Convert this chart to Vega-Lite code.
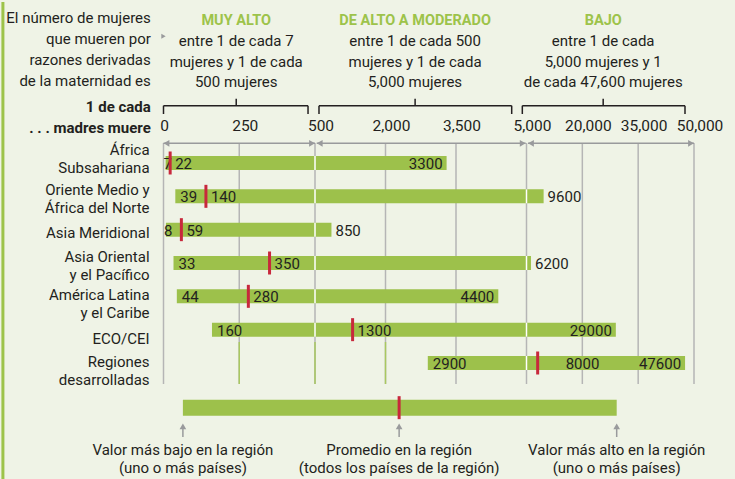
{
  "$schema": "https://vega.github.io/schema/vega-lite/v6.json",
  "width": 735,
  "height": 479,
  "autosize": {"type": "fit", "contains": "padding"},
  "padding": 0,
  "background": "#eff3e6",
  "config": {"view": {"stroke": null}, "axis": {"disable": true}, "font": "Roboto", "text": {"color": "#231f20"}},
  "data": {"values": [{}]},
  "datasets": {
    "regiones": [
      {"region": "África\nSubsahariana", "fila": 1, "min": 7, "prom": 22, "max": 3300},
      {"region": "Oriente Medio y\nÁfrica del Norte", "fila": 2, "min": 39, "prom": 140, "max": 9600},
      {"region": "Asia Meridional", "fila": 3, "min": 8, "prom": 59, "max": 850},
      {"region": "Asia Oriental\ny el Pacífico", "fila": 4, "min": 33, "prom": 350, "max": 6200},
      {"region": "América Latina\ny el Caribe", "fila": 5, "min": 44, "prom": 280, "max": 4400},
      {"region": "ECO/CEI", "fila": 6, "min": 160, "prom": 1300, "max": 29000},
      {"region": "Regiones\ndesarrolladas", "fila": 7, "min": 2900, "prom": 8000, "max": 47600}
    ],
    "escala": [
      {"v": 0, "t": "0"}, {"v": 250, "t": "250"}, {"v": 500, "t": "500"},
      {"v": 2000, "t": "2,000"}, {"v": 3500, "t": "3,500"}, {"v": 5000, "t": "5,000"},
      {"v": 20000, "t": "20,000"}, {"v": 35000, "t": "35,000"}, {"v": 50000, "t": "50,000"}
    ],
    "secciones": [
      {"titulo": "MUY ALTO", "texto": "entre 1 de cada 7\nmujeres y 1 de cada\n500 mujeres", "centro": 240, "ini": 0, "fin": 477, "fa": 0, "fb": 500},
      {"titulo": "DE ALTO A MODERADO", "texto": "entre 1 de cada 500\nmujeres y 1 de cada\n5,000 mujeres", "centro": 2630, "ini": 585, "fin": 4685, "fa": 536, "fb": 4983},
      {"titulo": "BAJO", "texto": "entre 1 de cada\n5,000 mujeres y 1\nde cada 47,600 mujeres", "centro": 25600, "ini": 4911, "fin": 47582, "fa": 5403, "fb": 50000}
    ],
    "leyenda": [
      {"t": "Valor más bajo en la región\n(uno o más países)", "v": 64},
      {"t": "Promedio en la región\n(todos los países de la región)", "v": 2290},
      {"t": "Valor más alto en la región\n(uno o más países)", "v": 29230}
    ]
  },
  "layer": [
    {
      "mark": {"type": "rule", "color": "#9dc34a", "strokeWidth": 3},
      "encoding": {
        "x": {"datum": -530, "type": "quantitative", "scale": {"domain": [0, 500, 5000, 50000], "range": [163.5, 315, 526.5, 694], "nice": false, "zero": false}},
        "y": {"datum": -3.83, "type": "quantitative", "scale": {"domain": [-3.83, 10.54], "range": [0, 479], "nice": false, "zero": false}},
        "y2": {"datum": 10.54}
      }
    },
    {
      "data": {"name": "escala"},
      "mark": {"type": "rule", "color": "#b5b5b5", "strokeWidth": 1.5},
      "encoding": {
        "x": {"field": "v", "type": "quantitative"},
        "y": {"datum": 0.4, "type": "quantitative"},
        "y2": {"datum": 7.63}
      }
    },
    {
      "data": {"name": "escala"},
      "transform": [{"filter": "datum.v == 250 || datum.v == 500 || datum.v == 2000"}],
      "mark": {"type": "rule", "color": "#a9c860", "strokeWidth": 1.5},
      "encoding": {
        "x": {"field": "v", "type": "quantitative"},
        "y": {"datum": 6.37, "type": "quantitative"},
        "y2": {"datum": 7.63}
      }
    },
    {
      "data": {"name": "secciones"},
      "mark": {"type": "rule", "color": "#999a9c", "strokeWidth": 1.5},
      "encoding": {
        "x": {"field": "fa", "type": "quantitative"},
        "x2": {"field": "fb"},
        "y": {"datum": 0.41, "type": "quantitative"}
      }
    },
    {
      "data": {"name": "secciones"},
      "mark": {"type": "point", "shape": "triangle-left", "filled": true, "size": 45, "color": "#999a9c", "opacity": 1, "xOffset": 3},
      "encoding": {
        "x": {"field": "fa", "type": "quantitative"},
        "y": {"datum": 0.41, "type": "quantitative"}
      }
    },
    {
      "data": {"name": "secciones"},
      "mark": {"type": "point", "shape": "triangle-right", "filled": true, "size": 45, "color": "#999a9c", "opacity": 1, "xOffset": -3},
      "encoding": {
        "x": {"field": "fb", "type": "quantitative"},
        "y": {"datum": 0.41, "type": "quantitative"}
      }
    },
    {
      "data": {"name": "secciones"},
      "mark": {"type": "rule", "color": "#231f20", "strokeWidth": 1.5},
      "encoding": {
        "x": {"field": "ini", "type": "quantitative"},
        "x2": {"field": "fin"},
        "y": {"datum": -0.72, "type": "quantitative"}
      }
    },
    {
      "data": {"name": "secciones"},
      "mark": {"type": "rule", "color": "#231f20", "strokeWidth": 1.5},
      "encoding": {
        "x": {"field": "ini", "type": "quantitative"},
        "y": {"datum": -0.72, "type": "quantitative"},
        "y2": {"datum": -0.47}
      }
    },
    {
      "data": {"name": "secciones"},
      "mark": {"type": "rule", "color": "#231f20", "strokeWidth": 1.5},
      "encoding": {
        "x": {"field": "fin", "type": "quantitative"},
        "y": {"datum": -0.72, "type": "quantitative"},
        "y2": {"datum": -0.47}
      }
    },
    {
      "data": {"name": "secciones"},
      "mark": {"type": "rule", "color": "#231f20", "strokeWidth": 1.5},
      "encoding": {
        "x": {"field": "centro", "type": "quantitative"},
        "y": {"datum": -0.93, "type": "quantitative"},
        "y2": {"datum": -0.72}
      }
    },
    {
      "data": {"name": "regiones"},
      "mark": {"type": "rule", "color": "#9dc14b", "strokeWidth": 14, "strokeCap": "butt"},
      "encoding": {
        "x": {"field": "min", "type": "quantitative"},
        "x2": {"field": "max"},
        "y": {"field": "fila", "type": "quantitative"}
      }
    },
    {
      "data": {"name": "regiones"},
      "transform": [{"filter": "datum.min < 500 && datum.max > 500"}],
      "mark": {"type": "tick", "orient": "vertical", "size": 14, "thickness": 1.5, "color": "#ffffff", "opacity": 1},
      "encoding": {
        "x": {"datum": 500, "type": "quantitative"},
        "y": {"field": "fila", "type": "quantitative"}
      }
    },
    {
      "data": {"name": "regiones"},
      "transform": [{"filter": "datum.min < 5000 && datum.max > 5000"}],
      "mark": {"type": "tick", "orient": "vertical", "size": 14, "thickness": 1.5, "color": "#ffffff", "opacity": 1},
      "encoding": {
        "x": {"datum": 5000, "type": "quantitative"},
        "y": {"field": "fila", "type": "quantitative"}
      }
    },
    {
      "data": {"name": "regiones"},
      "transform": [{"filter": "datum.fila != 1 && datum.fila != 3"}],
      "mark": {"type": "text", "align": "left", "baseline": "middle", "fontSize": 15, "dx": 5, "dy": 1},
      "encoding": {
        "x": {"field": "min", "type": "quantitative"},
        "y": {"field": "fila", "type": "quantitative"},
        "text": {"field": "min", "type": "nominal"}
      }
    },
    {
      "data": {"name": "regiones"},
      "transform": [{"filter": "datum.fila == 1 || datum.fila == 3"}],
      "mark": {"type": "text", "align": "left", "baseline": "middle", "fontSize": 15, "dx": -2, "dy": 1},
      "encoding": {
        "x": {"field": "min", "type": "quantitative"},
        "y": {"field": "fila", "type": "quantitative"},
        "text": {"field": "min", "type": "nominal"}
      }
    },
    {
      "data": {"name": "regiones"},
      "mark": {"type": "tick", "orient": "vertical", "size": 23, "thickness": 3, "color": "#c8283c", "opacity": 1},
      "encoding": {
        "x": {"field": "prom", "type": "quantitative"},
        "y": {"field": "fila", "type": "quantitative"}
      }
    },
    {
      "data": {"name": "regiones"},
      "transform": [{"filter": "datum.fila != 7"}],
      "mark": {"type": "text", "align": "left", "baseline": "middle", "fontSize": 15, "dx": 5, "dy": 1},
      "encoding": {
        "x": {"field": "prom", "type": "quantitative"},
        "y": {"field": "fila", "type": "quantitative"},
        "text": {"field": "prom", "type": "nominal"}
      }
    },
    {
      "data": {"name": "regiones"},
      "transform": [{"filter": "datum.fila == 7"}],
      "mark": {"type": "text", "align": "left", "baseline": "middle", "fontSize": 15, "dx": 28, "dy": 1},
      "encoding": {
        "x": {"field": "prom", "type": "quantitative"},
        "y": {"field": "fila", "type": "quantitative"},
        "text": {"field": "prom", "type": "nominal"}
      }
    },
    {
      "data": {"name": "regiones"},
      "transform": [{"filter": "datum.fila == 1 || datum.fila == 5 || datum.fila == 6 || datum.fila == 7"}],
      "mark": {"type": "text", "align": "right", "baseline": "middle", "fontSize": 15, "dx": -4, "dy": 1},
      "encoding": {
        "x": {"field": "max", "type": "quantitative"},
        "y": {"field": "fila", "type": "quantitative"},
        "text": {"field": "max", "type": "nominal"}
      }
    },
    {
      "data": {"name": "regiones"},
      "transform": [{"filter": "datum.fila == 2 || datum.fila == 3 || datum.fila == 4"}],
      "mark": {"type": "text", "align": "left", "baseline": "middle", "fontSize": 15, "dx": 4, "dy": 1},
      "encoding": {
        "x": {"field": "max", "type": "quantitative"},
        "y": {"field": "fila", "type": "quantitative"},
        "text": {"field": "max", "type": "nominal"}
      }
    },
    {
      "data": {"name": "regiones"},
      "transform": [{"filter": "datum.fila == 2 || datum.fila == 4"}],
      "mark": {"type": "text", "align": "right", "baseline": "middle", "fontSize": 15, "lineBreak": "\n", "lineHeight": 18, "dy": -6},
      "encoding": {
        "x": {"datum": -46, "type": "quantitative"},
        "y": {"field": "fila", "type": "quantitative"},
        "text": {"field": "region", "type": "nominal"}
      }
    },
    {
      "data": {"name": "regiones"},
      "transform": [{"filter": "datum.fila == 5 || datum.fila == 7"}],
      "mark": {"type": "text", "align": "right", "baseline": "middle", "fontSize": 15, "lineBreak": "\n", "lineHeight": 18, "dy": -1},
      "encoding": {
        "x": {"datum": -46, "type": "quantitative"},
        "y": {"field": "fila", "type": "quantitative"},
        "text": {"field": "region", "type": "nominal"}
      }
    },
    {
      "data": {"name": "regiones"},
      "transform": [{"filter": "datum.fila == 1"}],
      "mark": {"type": "text", "align": "right", "baseline": "middle", "fontSize": 15, "lineBreak": "\n", "lineHeight": 18, "dy": -13},
      "encoding": {
        "x": {"datum": -46, "type": "quantitative"},
        "y": {"field": "fila", "type": "quantitative"},
        "text": {"field": "region", "type": "nominal"}
      }
    },
    {
      "data": {"name": "regiones"},
      "transform": [{"filter": "datum.fila == 3"}],
      "mark": {"type": "text", "align": "right", "baseline": "middle", "fontSize": 15, "dy": 3},
      "encoding": {
        "x": {"datum": -46, "type": "quantitative"},
        "y": {"field": "fila", "type": "quantitative"},
        "text": {"field": "region", "type": "nominal"}
      }
    },
    {
      "data": {"name": "regiones"},
      "transform": [{"filter": "datum.fila == 6"}],
      "mark": {"type": "text", "align": "right", "baseline": "middle", "fontSize": 15, "dy": 9},
      "encoding": {
        "x": {"datum": -46, "type": "quantitative"},
        "y": {"field": "fila", "type": "quantitative"},
        "text": {"field": "region", "type": "nominal"}
      }
    },
    {
      "data": {"name": "escala"},
      "transform": [{"filter": "datum.v > 0"}],
      "mark": {"type": "text", "align": "center", "baseline": "alphabetic", "fontSize": 15.5, "dx": 6},
      "encoding": {
        "x": {"field": "v", "type": "quantitative"},
        "y": {"datum": 0.05, "type": "quantitative"},
        "text": {"field": "t", "type": "nominal"}
      }
    },
    {
      "data": {"name": "escala"},
      "transform": [{"filter": "datum.v == 0"}],
      "mark": {"type": "text", "align": "center", "baseline": "alphabetic", "fontSize": 15.5, "dx": 1},
      "encoding": {
        "x": {"field": "v", "type": "quantitative"},
        "y": {"datum": 0.05, "type": "quantitative"},
        "text": {"field": "t", "type": "nominal"}
      }
    },
    {
      "data": {"name": "secciones"},
      "mark": {"type": "text", "align": "center", "baseline": "alphabetic", "fontSize": 14.5, "fontWeight": "bold", "color": "#9dc34a"},
      "encoding": {
        "x": {"field": "centro", "type": "quantitative"},
        "y": {"datum": -3.15, "type": "quantitative"},
        "text": {"field": "titulo", "type": "nominal"}
      }
    },
    {
      "data": {"name": "secciones"},
      "mark": {"type": "text", "align": "center", "baseline": "alphabetic", "fontSize": 15, "lineBreak": "\n", "lineHeight": 20.5},
      "encoding": {
        "x": {"field": "centro", "type": "quantitative"},
        "y": {"datum": -2.5, "type": "quantitative"},
        "text": {"field": "texto", "type": "nominal"}
      }
    },
    {
      "mark": {"type": "text", "align": "right", "baseline": "alphabetic", "fontSize": 15, "lineBreak": "\n", "lineHeight": 21, "text": "El número de mujeres\nque mueren por\nrazones derivadas\nde la maternidad es"},
      "encoding": {
        "x": {"datum": -42, "type": "quantitative"},
        "y": {"datum": -3.21, "type": "quantitative"}
      }
    },
    {
      "mark": {"type": "text", "align": "right", "baseline": "alphabetic", "fontSize": 15, "fontWeight": "bold", "lineBreak": "\n", "lineHeight": 20.7, "text": "1 de cada\n. . . madres muere"},
      "encoding": {
        "x": {"datum": -42, "type": "quantitative"},
        "y": {"datum": -0.53, "type": "quantitative"}
      }
    },
    {
      "mark": {"type": "point", "shape": "triangle-right", "filled": true, "size": 25, "color": "#999a9c", "opacity": 1},
      "encoding": {
        "x": {"datum": 0, "type": "quantitative"},
        "y": {"datum": -2.8, "type": "quantitative"}
      }
    },
    {
      "data": {"name": "leyenda"},
      "transform": [{"aggregate": [{"op": "min", "field": "v", "as": "lo"}, {"op": "max", "field": "v", "as": "hi"}]}],
      "mark": {"type": "rule", "color": "#9dc14b", "strokeWidth": 16, "strokeCap": "butt"},
      "encoding": {
        "x": {"field": "lo", "type": "quantitative"},
        "x2": {"field": "hi"},
        "y": {"datum": 8.34, "type": "quantitative"}
      }
    },
    {
      "data": {"name": "leyenda"},
      "transform": [{"filter": "datum.v == 2290"}],
      "mark": {"type": "tick", "orient": "vertical", "size": 23, "thickness": 3, "color": "#c8283c", "opacity": 1},
      "encoding": {
        "x": {"field": "v", "type": "quantitative"},
        "y": {"datum": 8.34, "type": "quantitative"}
      }
    },
    {
      "data": {"name": "leyenda"},
      "mark": {"type": "rule", "color": "#999a9c", "strokeWidth": 1.5},
      "encoding": {
        "x": {"field": "v", "type": "quantitative"},
        "y": {"datum": 8.9, "type": "quantitative"},
        "y2": {"datum": 9.22}
      }
    },
    {
      "data": {"name": "leyenda"},
      "mark": {"type": "point", "shape": "triangle-up", "filled": true, "size": 45, "color": "#999a9c", "opacity": 1},
      "encoding": {
        "x": {"field": "v", "type": "quantitative"},
        "y": {"datum": 8.9, "type": "quantitative"}
      }
    },
    {
      "data": {"name": "leyenda"},
      "mark": {"type": "text", "align": "center", "baseline": "alphabetic", "fontSize": 15, "lineBreak": "\n", "lineHeight": 17.5},
      "encoding": {
        "x": {"field": "v", "type": "quantitative"},
        "y": {"datum": 9.77, "type": "quantitative"},
        "text": {"field": "t", "type": "nominal"}
      }
    }
  ]
}
